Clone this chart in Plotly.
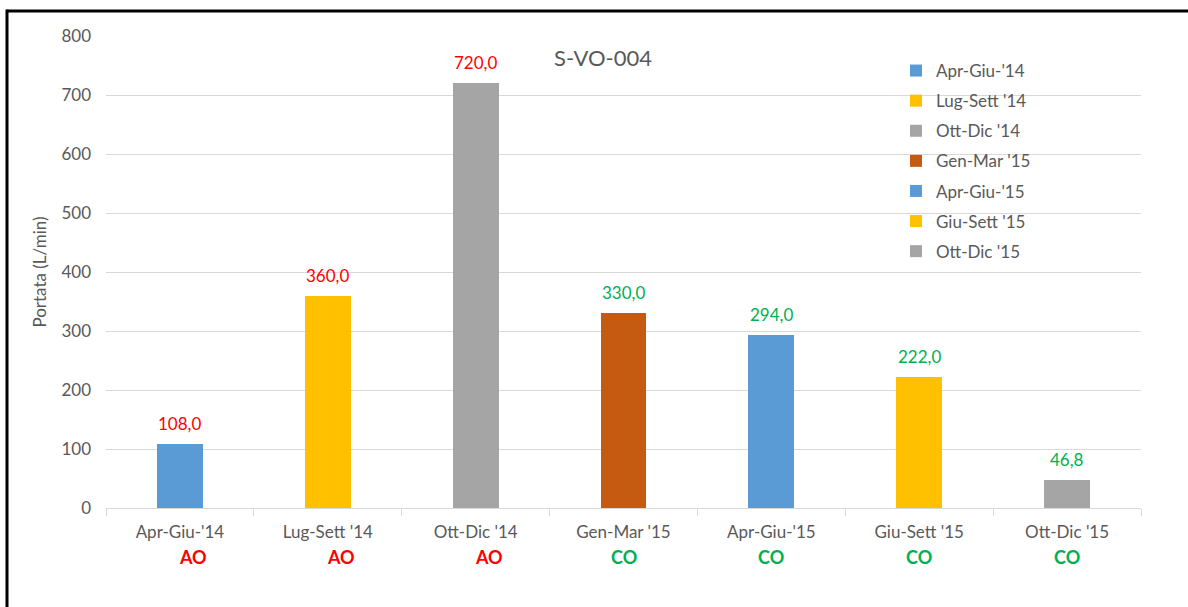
import plotly.graph_objects as go

categories = ["Apr-Giu-'14", "Lug-Sett '14", "Ott-Dic '14", "Gen-Mar '15",
              "Apr-Giu-'15", "Giu-Sett '15", "Ott-Dic '15"]
values = [108.0, 360.0, 720.0, 330.0, 294.0, 222.0, 46.8]
bar_colors = ["#5B9BD5", "#FFC000", "#A5A5A5", "#C55A11", "#5B9BD5", "#FFC000", "#A5A5A5"]
status = ["AO", "AO", "AO", "CO", "CO", "CO", "CO"]
status_colors = {"AO": "#FF0000", "CO": "#00B050"}
y_ticks = [0, 100, 200, 300, 400, 500, 600, 700, 800]

FONT = "Lato, Open Sans, sans-serif"
GREY = "#595959"

fig = go.Figure()
for i, (c, v) in enumerate(zip(categories, values)):
    fig.add_trace(go.Bar(
        x=[c], y=[v], name=c, width=0.31,
        marker=dict(color=bar_colors[i], line=dict(width=0)),
        legendgroup=f"g{i}",
    ))

annotations = []
for i, (c, v) in enumerate(zip(categories, values)):
    annotations.append(dict(
        x=c, y=v, xref="x", yref="y", text=f"{v:.1f}".replace(".", ","), showarrow=False,
        yanchor="bottom", yshift=8,
        font=dict(color=status_colors[status[i]], size=17, family=FONT)))
    annotations.append(dict(
        x=c, y=0, xref="x", yref="y", text=f"<b>{status[i]}</b>", showarrow=False,
        yshift=-49, xshift=13 if status[i] == "AO" else 0,
        font=dict(color=status_colors[status[i]], size=18, family=FONT)))
annotations.append(dict(x=(603 - 106) / 1035, y=1 - (57 - 36) / 472, xref="paper", yref="paper",
                        yanchor="middle", text="S-VO-004",
                        showarrow=False, font=dict(size=22, color=GREY, family=FONT)))

left_x = (7 - 106) / 1035
top_y = 1 + (36 - 11) / 472
fig.update_layout(
    width=1188, height=607,
    margin=dict(l=106, r=47, t=36, b=99),
    paper_bgcolor="white", plot_bgcolor="white",
    barmode="overlay", bargap=0,
    showlegend=True,
    legend=dict(x=(896 - 106) / 1035, y=1 - (53 - 36) / 472, xanchor="left", yanchor="top",
                font=dict(size=17, color=GREY, family=FONT),
                tracegroupgap=5, bgcolor="rgba(0,0,0,0)", itemwidth=30),
    annotations=annotations,
    shapes=[dict(type="line", xref="paper", yref="paper",
                 x0=left_x, x1=left_x, y0=-(640 - 508) / 472, y1=top_y + 1.5 / 472,
                 line=dict(color="black", width=3)),
            dict(type="line", xref="paper", yref="paper",
                 x0=left_x, x1=(1220 - 106) / 1035, y0=top_y, y1=top_y,
                 line=dict(color="black", width=3))],
    xaxis=dict(showgrid=False, showline=True, linecolor="#D9D9D9", linewidth=1,
               ticks="outside", tickson="boundaries", ticklen=7, tickcolor="#D9D9D9",
               ticklabelstandoff=9,
               tickfont=dict(size=17, color=GREY, family=FONT)),
    yaxis=dict(range=[0, 800], tickvals=y_ticks, showgrid=True, gridcolor="#D9D9D9",
               zeroline=False, ticks="", ticklabelstandoff=14,
               tickfont=dict(size=17, color=GREY, family=FONT),
               title=dict(text="Portata (L/min)", font=dict(size=17, color=GREY, family=FONT),
                          standoff=10)),
)
fig.write_html("out.html", post_script="document.body.style.margin='0';",
               config={"displayModeBar": False})
